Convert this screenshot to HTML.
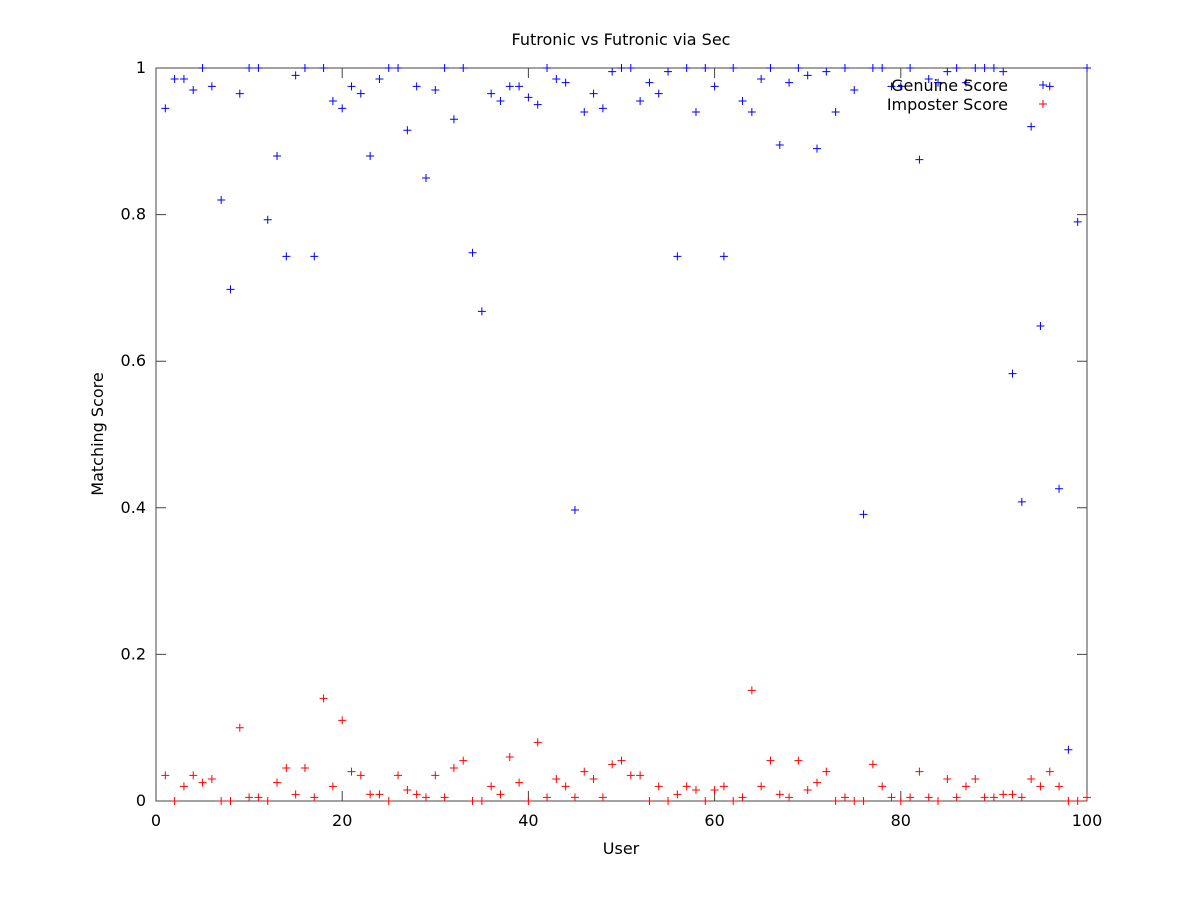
<!DOCTYPE html>
<html><head><meta charset="utf-8"><style>
body{margin:0;background:#fff}
svg text{font-family:"DejaVu Sans","Liberation Sans",sans-serif;font-size:16px;fill:#000}
</style></head><body>
<svg id="chart" width="1200" height="900" xmlns="http://www.w3.org/2000/svg">
<rect width="1200" height="900" fill="#fff"/>
<g id="axes"></g>
<g id="marks"></g>
<text x="621" y="45" text-anchor="middle">Futronic vs Futronic via Sec</text>
<text x="621" y="854" text-anchor="middle">User</text>
<text x="103" y="434" text-anchor="middle" transform="rotate(-90 103 434)">Matching Score</text>
<g>
<text x="1008" y="91" text-anchor="end">Genuine Score</text>
<text x="1008" y="110" text-anchor="end">Imposter Score</text>
<path d="M1039 85h8M1043 81v8" stroke="#0000ff" stroke-width="1"/>
<path d="M1039 104h8M1043 100v8" stroke="#ff0000" stroke-width="1"/>
</g>
</svg>
<script>
const genuine = [0.945,0.985,0.985,0.97,1.0,0.975,0.82,0.698,0.965,1.0,1.0,0.793,0.88,0.743,0.99,1.0,0.743,1.0,0.955,0.945,0.975,0.965,0.88,0.985,1.0,1.0,0.915,0.975,0.85,0.97,1.0,0.93,1.0,0.748,0.668,0.965,0.955,0.975,0.975,0.96,0.95,1.0,0.985,0.98,0.397,0.94,0.965,0.945,0.995,1.0,1.0,0.955,0.98,0.965,0.995,0.743,1.0,0.94,1.0,0.975,0.743,1.0,0.955,0.94,0.985,1.0,0.895,0.98,1.0,0.99,0.89,0.995,0.94,1.0,0.97,0.391,1.0,1.0,0.975,0.975,1.0,0.875,0.985,0.98,0.995,1.0,0.98,1.0,1.0,1.0,0.995,0.583,0.408,0.92,0.648,0.975,0.426,0.07,0.79,1.0];
const imposter = [0.035,0,0.02,0.035,0.025,0.03,0,0,0.10,0.005,0.005,0,0.025,0.045,0.009,0.045,0.005,0.14,0.02,0.11,0.04,0.035,0.009,0.009,0,0.035,0.015,0.009,0.005,0.035,0.005,0.045,0.055,0,0,0.02,0.009,0.06,0.025,0,0.08,0.005,0.03,0.02,0.005,0.04,0.03,0.005,0.05,0.055,0.035,0.035,0,0.02,0,0.009,0.02,0.015,0,0.015,0.02,0,0.005,0.151,0.02,0.055,0.009,0.005,0.055,0.015,0.025,0.04,0,0.005,0,0,0.05,0.02,0.005,0,0.005,0.04,0.005,0,0.03,0.005,0.02,0.03,0.005,0.005,0.009,0.009,0.005,0.03,0.02,0.04,0.02,0,0,0.005];
const xTicks = [0,20,40,60,80,100];
const yTicks = [0,0.2,0.4,0.6,0.8,1];
const yTickLabels = ["0","0.2","0.4","0.6","0.8","1"];

const L=156,R=1087,T=68,B=801;
const xs=v=>L+(R-L)*v/100;
const ys=v=>B-(B-T)*v;
const NS="http://www.w3.org/2000/svg";
const axes=document.getElementById('axes'), marks=document.getElementById('marks');
function mk(tag,attrs,parent){const e=document.createElementNS(NS,tag);for(const k in attrs)e.setAttribute(k,attrs[k]);parent.appendChild(e);return e;}
const frame=mk('rect',{x:L,y:T,width:R-L,height:B-T,fill:'none',stroke:'#444','stroke-width':1},axes);


xTicks.forEach(t=>{
  const x=xs(t);
  const p=mk('path',{d:`M${x} ${B}v-10M${x} ${T}v10`,stroke:'#444','stroke-width':1},axes);
  
  
  const tx=mk('text',{x:x,y:B+25,'text-anchor':'middle'},axes);tx.textContent=t;
  
  
});
yTicks.forEach((t,i)=>{
  const y=ys(t);
  const p=mk('path',{d:`M${L} ${y}h10M${R} ${y}h-10`,stroke:'#444','stroke-width':1},axes);
  
  
  const tx=mk('text',{x:L-10,y:y+5,'text-anchor':'end'},axes);tx.textContent=yTickLabels[i];
  
  
});
function plot(arr,color,name){
  arr.forEach((v,i)=>{
    const x=xs(i+1),y=ys(v);
    const p=mk('path',{d:`M${x-4} ${y}h8M${x} ${y-4}v8`,stroke:color,'stroke-width':1},marks);
    
    
  });
}
plot(genuine,'#0000ff','genuine-point');
plot(imposter,'#ff0000','imposter-point');
</script>
</body></html>
